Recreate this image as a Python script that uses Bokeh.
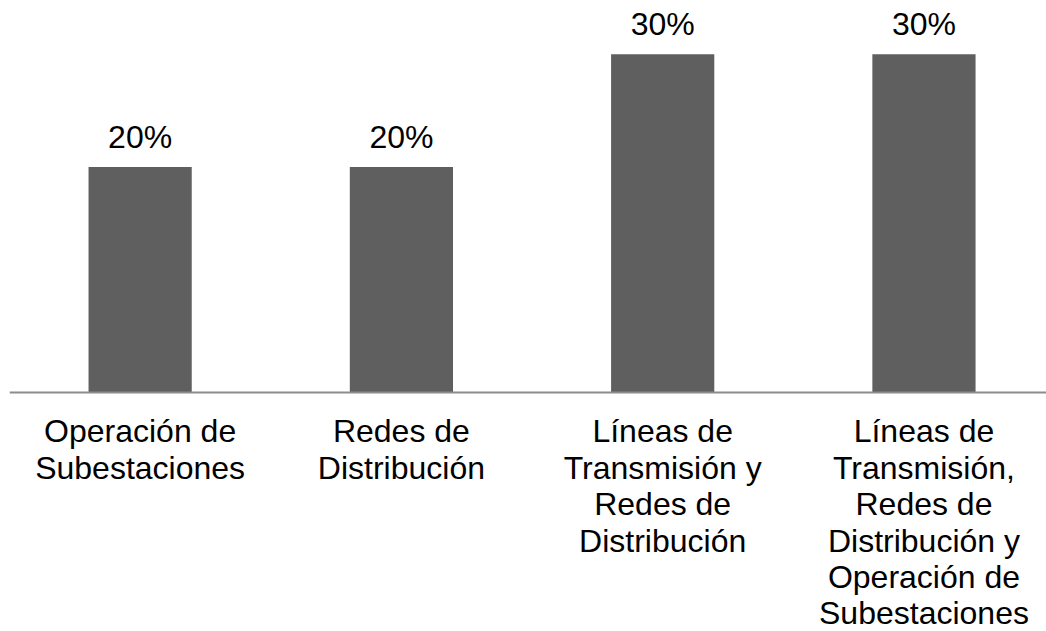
from bokeh.plotting import figure
from bokeh.models import ColumnDataSource, Range1d, Span
from bokeh.core.properties import value
from bokeh.embed import file_html
from bokeh.resources import INLINE

categories = [
    "Operación de\nSubestaciones",
    "Redes de\nDistribución",
    "Líneas de\nTransmisión y\nRedes de\nDistribución",
    "Líneas de\nTransmisión,\nRedes de\nDistribución y\nOperación de\nSubestaciones",
]
values = [20, 20, 30, 30]
value_labels = ["20%", "20%", "30%", "30%"]
positions = [0, 1, 2, 3]

src = ColumnDataSource(dict(x=positions, top=values, lab=value_labels,
                            cat=categories, zero=[0] * 4))

p = figure(width=1046, height=631, output_backend="svg", toolbar_location=None,
           x_range=Range1d(-0.5, 3.469), y_range=Range1d(-21.21, 34.78),
           min_border_left=9, min_border_right=0, min_border_top=0, min_border_bottom=0)
p.axis.visible = False
p.grid.visible = False
p.outline_line_color = None
p.background_fill_color = "white"
p.border_fill_color = "white"

p.vbar(x="x", top="top", bottom=0, width=0.395, source=src,
       fill_color="#5f5f5f", line_color=None)

p.add_layout(Span(location=0, dimension="width", line_color="#8c8c8c", line_width=2))

p.text(x="x", y="top", text="lab", source=src, text_align="center",
       text_baseline="alphabetic", y_offset=-30, text_font_size="32px",
       text_font=value("Liberation Sans"), text_color="black")

p.text(x="x", y="zero", text="cat", source=src, text_align="center",
       text_baseline="top", y_offset=21, text_font_size="32px",
       text_line_height=1.01,
       text_font=value("Liberation Sans"), text_color="black")

open("out.html", "w").write(file_html(p, INLINE))
